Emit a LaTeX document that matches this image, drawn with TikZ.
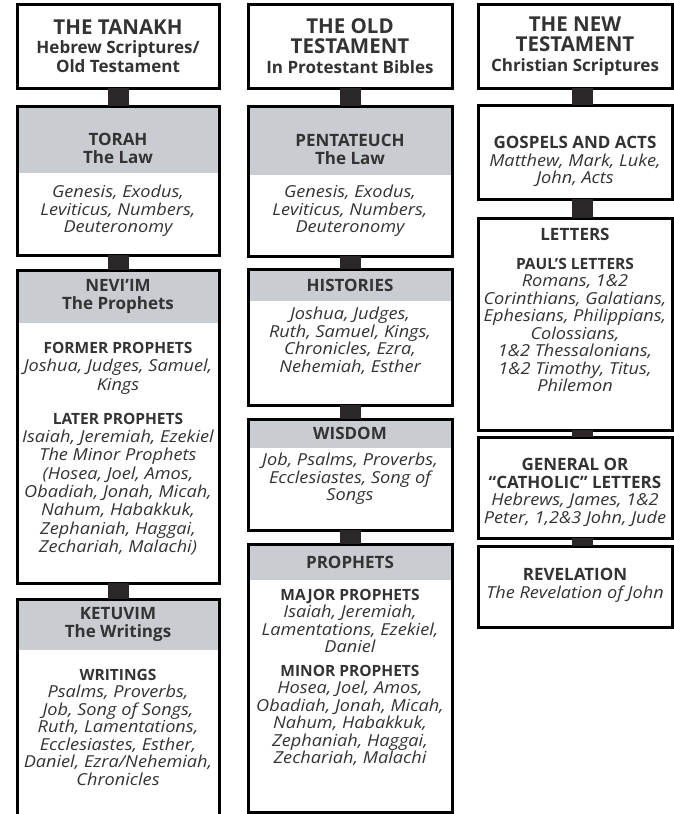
\documentclass[tikz,border=0pt]{standalone}
\usepackage{fontspec}
\setmainfont{Open Sans}[ItalicFeatures={FakeStretch=1.1}]
\usetikzlibrary{positioning,calc,backgrounds}
\definecolor{hdrgray}{HTML}{C9CCD1}
\definecolor{inkdark}{HTML}{333333}
\definecolor{linkdark}{HTML}{2B2728}
\newcommand{\ttl}{\fontsize{20.5}{21}\selectfont\bfseries\upshape}
\newcommand{\subttl}{\fontsize{17}{18}\selectfont\bfseries\upshape}
\newcommand{\hdrfont}{\fontsize{17}{18}\selectfont\bfseries}
\newcommand{\txtfont}{\fontsize{16.5}{17.5}\selectfont\itshape}
\newcommand{\grp}[1]{{\fontsize{15.5}{17.5}\selectfont\bfseries\upshape #1}}
\newcommand{\bgrp}[1]{{\fontsize{17}{17.5}\selectfont\bfseries\upshape #1}}

\begin{document}
\begin{tikzpicture}[
    box/.style={rectangle, draw=black, line width=3pt, outer sep=0pt, inner sep=0pt, align=center, text=inkdark, font=\txtfont},
    hdr/.style={rectangle, fill=hdrgray, outer sep=0pt, inner sep=0pt, align=center, anchor=north, text=inkdark, font=\hdrfont},
    body/.style={inner sep=0pt, align=center, anchor=north, text=inkdark, font=\txtfont},
    colA/.style={box, minimum width=202pt},
    colB/.style={box, minimum width=204pt},
    colC/.style={box, minimum width=194pt},
    link/.style={draw=linkdark, line width=21pt}
]
\useasboundingbox (0,0) rectangle (674pt,-814pt);

% Tanakh column
\node[colA, minimum height=84pt, anchor=north west] (tanakh) at (17pt,-4pt)
  {{\ttl THE TANAKH}\\[2pt]{\subttl Hebrew Scriptures/}\\[1pt]{\subttl Old Testament}};
\node[colA, minimum height=149pt, below=18pt of tanakh] (torah) {};
\node[colA, minimum height=313pt, below=15pt of torah] (neviim) {};
\node[colA, minimum height=250pt, below=16pt of neviim] (ketuvim) {};

% Protestant column
\node[colB, minimum height=84pt, right=29pt of tanakh] (ot)
  {{\ttl THE OLD}\\[3pt]{\ttl TESTAMENT}\\[2pt]{\subttl In Protestant Bibles}};
\node[colB, minimum height=150pt, below=18pt of ot] (pentateuch) {};
\node[colB, minimum height=136pt, below=13pt of pentateuch] (histories) {};
\node[colB, minimum height=111pt, below=14pt of histories] (wisdom) {};
\node[colB, minimum height=268pt, below=14pt of wisdom] (prophets) {};

% Christian column
\node[colC, minimum height=84pt, right=26pt of ot] (nt)
  {{\ttl THE NEW}\\[3pt]{\ttl TESTAMENT}\\[2pt]{\subttl Christian Scriptures}};
\node[colC, minimum height=94pt, below=17pt of nt] (gospels) {};
\node[colC, minimum height=212pt, below=19pt of gospels] (letters) {};
\node[colC, minimum height=101pt, below=7pt of letters] (general) {};
\node[colC, minimum height=81pt, below=8pt of general] (revelation) {};

% grey headers
\begin{scope}[on background layer]
\node[hdr, minimum width=202pt, minimum height=67pt] (torahhd) at (torah.north) {\rule{0pt}{30pt}TORAH\\The Law};
\node[hdr, minimum width=202pt, minimum height=53pt] (neviimhd) at (neviim.north) {NEVI’IM\\The Prophets};
\node[hdr, minimum width=202pt, minimum height=51pt] (ketuvimhd) at (ketuvim.north) {KETUVIM\\The Writings};
\node[hdr, minimum width=204pt, minimum height=69pt] (pentateuchhd) at (pentateuch.north) {\rule{0pt}{30pt}PENTATEUCH\\The Law};
\node[hdr, minimum width=204pt, minimum height=32pt] (historieshd) at (histories.north) {HISTORIES};
\node[hdr, minimum width=204pt, minimum height=29pt] (wisdomhd) at (wisdom.north) {WISDOM};
\node[hdr, minimum width=204pt, minimum height=36pt] (prophetshd) at (prophets.north) {PROPHETS};
\end{scope}

% body texts
\node[body, below=12pt of torahhd] (torahtx) {Genesis, Exodus,\\Leviticus, Numbers,\\Deuteronomy};
\node[body, below=19pt of neviimhd, font=\fontsize{16.5}{18.3}\selectfont\itshape] (neviimtx)
  {\grp{FORMER PROPHETS}\\Joshua, Judges, Samuel,\\Kings\\[16pt]\grp{LATER PROPHETS}\\Isaiah, Jeremiah, Ezekiel\\The Minor Prophets\\(Hosea, Joel, Amos,\\Obadiah, Jonah, Micah,\\Nahum, Habakkuk,\\Zephaniah, Haggai,\\Zechariah, Malachi)};
\node[body, below=19pt of ketuvimhd] (ketuvimtx)
  {\grp{WRITINGS}\\Psalms, Proverbs,\\Job, Song of Songs,\\Ruth, Lamentations,\\Ecclesiastes, Esther,\\Daniel, Ezra/Nehemiah,\\Chronicles};
\node[body, below=10pt of pentateuchhd] (pentateuchtx) {Genesis, Exodus,\\Leviticus, Numbers,\\Deuteronomy};
\node[body, below=6pt of historieshd] (historiestx) {Joshua, Judges,\\Ruth, Samuel, Kings,\\Chronicles, Ezra,\\Nehemiah, Esther};
\node[body, below=5pt of wisdomhd] (wisdomtx) {Job, Psalms, Proverbs,\\Ecclesiastes, Song of\\Songs};
\node[body, below=9pt of prophetshd] (prophetstx)
  {\grp{MAJOR PROPHETS}\\Isaiah, Jeremiah,\\Lamentations, Ezekiel,\\Daniel\\[6pt]\grp{MINOR PROPHETS}\\Hosea, Joel, Amos,\\Obadiah, Jonah, Micah,\\Nahum, Habakkuk,\\Zephaniah, Haggai,\\Zechariah, Malachi};
\node[body, below=31pt of gospels.north] (gospelstx)
  {\bgrp{GOSPELS AND ACTS}\\Matthew, Mark, Luke,\\John, Acts};
\node[body, below=10pt of letters.north] (letterstx)
  {\bgrp{LETTERS}\\[11pt]\grp{PAUL’S LETTERS}\\Romans, 1\&2\\Corinthians, Galatians,\\Ephesians, Philippians,\\Colossians,\\1\&2 Thessalonians,\\1\&2 Timothy, Titus,\\Philemon};
\node[body, below=21pt of general.north] (generaltx)
  {\bgrp{GENERAL OR}\\\bgrp{“CATHOLIC” LETTERS}\\Hebrews, James, 1\&2\\Peter, 1,2\&3 John, Jude};
\node[body, below=22pt of revelation.north] (revelationtx)
  {\bgrp{REVELATION}\\The Revelation of John};

% connectors
\draw[link] (tanakh.south) -- (torah.north);
\draw[link] (torah.south) -- (neviim.north);
\draw[link] (neviim.south) -- (ketuvim.north);
\draw[link] (ot.south) -- (pentateuch.north);
\draw[link] (pentateuch.south) -- (histories.north);
\draw[link] (histories.south) -- (wisdom.north);
\draw[link] (wisdom.south) -- (prophets.north);
\draw[link] ([xshift=7pt]nt.south) -- ([xshift=7pt]gospels.north);
\draw[link] ([xshift=7pt]gospels.south) -- ([xshift=7pt]letters.north);
\draw[link] ([xshift=7pt]letters.south) -- ([xshift=7pt]general.north);
\draw[link] ([xshift=7pt]general.south) -- ([xshift=7pt]revelation.north);
\end{tikzpicture}
\end{document}
